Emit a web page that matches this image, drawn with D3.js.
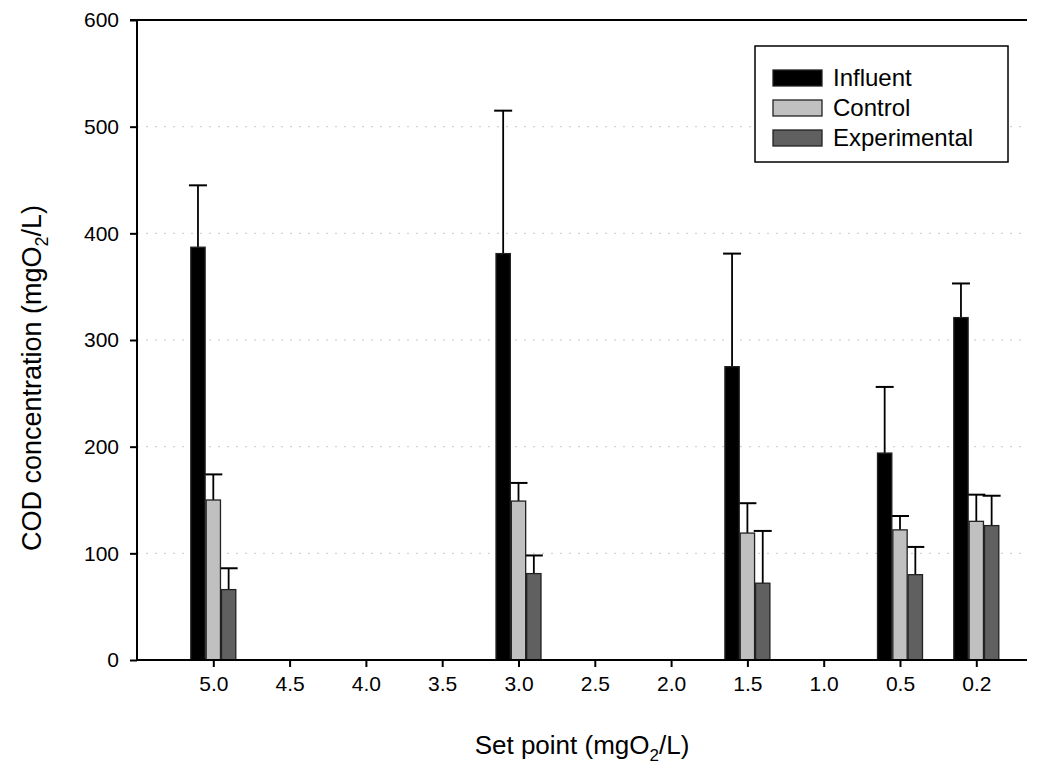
<!DOCTYPE html>
<html>
<head>
<meta charset="utf-8">
<script src="https://cdn.jsdelivr.net/npm/d3@7"></script>
<style>
  body { margin: 0; background: #fff; }
  svg { display: block; font-family: 'Liberation Sans', Arial, sans-serif; }
</style>
</head>
<body>
<svg id="chart" width="1046" height="776"></svg>
<script>
// Set points (x categories) and the three measured series
const setPoints = ['5.0', '4.5', '4.0', '3.5', '3.0', '2.5', '2.0', '1.5', '1.0', '0.5', '0.2'];
const seriesNames = ['Influent', 'Control', 'Experimental'];
const seriesColors = ['#000000', '#c0c0c0', '#606060'];

// Means (null = no measurement at that set point)
const influent = [387, null, null, null, 381, null, null, 275, null, 194, 321];
const control = [150, null, null, null, 149, null, null, 119, null, 122, 130];
const experimental = [66, null, null, null, 81, null, null, 72, null, 80, 126];

// Upper end of each error bar
const influentErr = [445, null, null, null, 515, null, null, 381, null, 256, 353];
const controlErr = [174, null, null, null, 166, null, null, 147, null, 135, 155];
const experimentalErr = [86, null, null, null, 98, null, null, 121, null, 106, 154];

const yTicks = [0, 100, 200, 300, 400, 500, 600];

const svg = d3.select('#chart');
const padding = { top: 20, right: 19, bottom: 116, left: 137 };
const width = 1046 - padding.left - padding.right;
const height = 776 - padding.top - padding.bottom;

const canvas = svg.append('g')
  .attr('transform', `translate(${padding.left}, ${padding.top})`);

const step = 76.3;
const x = d3.scalePoint()
  .domain(setPoints)
  .range([step, step * (setPoints.length)]);

const x1 = d3.scaleBand()
  .domain(seriesNames)
  .range([-23, 23])
  .padding(0);

const y = d3.scaleLinear().domain([0, 600]).range([height, 0]);

// Dotted grid lines
canvas.append('g').attr('class', 'grid')
  .selectAll('line')
  .data(yTicks.filter(d => d > 0 && d < 600))
  .join('line')
  .attr('x1', 0)
  .attr('x2', width)
  .attr('y1', d => y(d))
  .attr('y2', d => y(d))
  .attr('stroke', '#c8c8c8')
  .attr('stroke-width', 1)
  .attr('stroke-dasharray', '2,7');

const values = [influent, control, experimental];
const errs = [influentErr, controlErr, experimentalErr];

const rows = [];
setPoints.forEach((p, i) => {
  seriesNames.forEach((s, j) => {
    if (values[j][i] !== null) {
      rows.push({ point: p, series: s, idx: j, value: values[j][i], err: errs[j][i] });
    }
  });
});

// Error bars (upper only)
const capW = 18;
const eb = canvas.append('g').attr('class', 'errors');
rows.forEach(d => {
  const cx = x(d.point) + x1(d.series) + x1.bandwidth() / 2;
  eb.append('line')
    .attr('x1', cx).attr('x2', cx)
    .attr('y1', y(d.value)).attr('y2', y(d.err))
    .attr('stroke', '#000').attr('stroke-width', 1.8);
  eb.append('line')
    .attr('x1', cx - capW / 2).attr('x2', cx + capW / 2)
    .attr('y1', y(d.err)).attr('y2', y(d.err))
    .attr('stroke', '#000').attr('stroke-width', 2);
});

// Bars
canvas.append('g').attr('class', 'bars')
  .selectAll('rect')
  .data(rows)
  .join('rect')
  .attr('x', d => x(d.point) + x1(d.series) + 0.5)
  .attr('y', d => y(d.value))
  .attr('width', x1.bandwidth() - 1)
  .attr('height', d => y(0) - y(d.value))
  .attr('fill', d => seriesColors[d.idx])
  .attr('stroke', '#222')
  .attr('stroke-width', 1.3);

// Axes
const yAxis = canvas.append('g').attr('class', 'axis y')
  .call(d3.axisLeft(y).tickValues(yTicks).tickSize(7).tickPadding(11).tickSizeOuter(0));
const xAxis = canvas.append('g').attr('class', 'axis x')
  .attr('transform', `translate(0, ${height})`)
  .call(d3.axisBottom(x).tickSize(7).tickPadding(9).tickSizeOuter(0));

[yAxis, xAxis].forEach(a => {
  a.select('.domain').remove();
  a.selectAll('.tick line').attr('stroke', '#000').attr('stroke-width', 2);
  a.selectAll('.tick text').attr('font-size', 21).attr('fill', '#000')
    .attr('font-family', "'Liberation Sans', Arial, sans-serif");
});

// Frame: left, bottom and top lines
canvas.append('line').attr('x1', 0).attr('x2', 0).attr('y1', 0).attr('y2', height)
  .attr('stroke', '#000').attr('stroke-width', 2);
canvas.append('line').attr('x1', -1).attr('x2', width).attr('y1', height).attr('y2', height)
  .attr('stroke', '#000').attr('stroke-width', 2);
canvas.append('line').attr('x1', -7).attr('x2', width).attr('y1', 0).attr('y2', 0)
  .attr('stroke', '#000').attr('stroke-width', 2);

// Axis titles
const yTitle = svg.append('text')
  .attr('transform', 'translate(41, 378) rotate(-90)')
  .attr('text-anchor', 'middle')
  .attr('font-size', 27);
yTitle.append('tspan').text('COD concentration (mgO');
yTitle.append('tspan').text('2').attr('font-size', 18).attr('dy', 7);
yTitle.append('tspan').text('/L)').attr('dy', -7);

const xTitle = svg.append('text')
  .attr('x', padding.left + width / 2)
  .attr('y', 754)
  .attr('text-anchor', 'middle')
  .attr('font-size', 26);
xTitle.append('tspan').text('Set point (mgO');
xTitle.append('tspan').text('2').attr('font-size', 17).attr('dy', 7);
xTitle.append('tspan').text('/L)').attr('dy', -7);

// Legend
const legend = svg.append('g').attr('transform', 'translate(755, 46)');
legend.append('rect')
  .attr('width', 253).attr('height', 116)
  .attr('fill', '#fff').attr('stroke', '#000').attr('stroke-width', 1.5);
seriesNames.forEach((s, i) => {
  const g = legend.append('g').attr('transform', `translate(18, ${24 + i * 30})`);
  g.append('rect')
    .attr('width', 49).attr('height', 16)
    .attr('fill', seriesColors[i]).attr('stroke', '#222').attr('stroke-width', 1.3);
  g.append('text')
    .attr('x', 60).attr('y', 16)
    .attr('font-size', 24)
    .text(s);
});
</script>
</body>
</html>
